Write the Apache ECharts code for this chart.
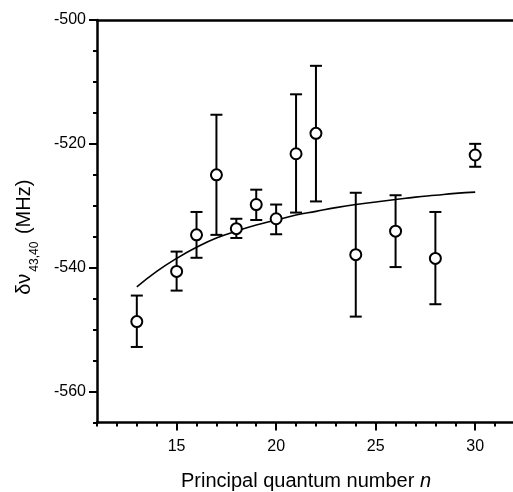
<!DOCTYPE html>
<html>
<head>
<meta charset="utf-8">
<script src="https://cdn.jsdelivr.net/npm/echarts@6/dist/echarts.min.js"></script>
<style>html,body{margin:0;padding:0;background:#fff}#c{width:513px;height:492px}</style>
</head>
<body>
<div id="c"></div>
<script>
const nValues   = [13, 15, 16, 17, 18, 19, 20, 21, 22, 24, 26, 28, 30];
const shifts    = [-548.7, -540.6, -534.7, -525.0, -533.7, -529.8, -532.1, -521.6, -518.3, -537.9, -534.1, -538.5, -521.8];
const errLow    = [-552.8, -543.7, -538.4, -534.7, -535.2, -532.3, -534.6, -531.1, -529.3, -547.9, -539.9, -545.9, -523.7];
const errHigh   = [-544.5, -537.4, -531.0, -515.3, -532.1, -527.4, -529.8, -512.0, -507.4, -527.9, -528.3, -531.0, -520.0];
// Fitted curve
const fitN      = [13, 14, 15, 16, 17, 18, 19, 20, 21, 22, 23, 24, 25, 26, 27, 28, 29, 30];
const fitShift  = [-543.1, -540.6, -538.5, -536.7, -535.2, -534.1, -533.1, -532.3, -531.5, -530.9, -530.3, -529.8, -529.4, -529.0, -528.6, -528.3, -528.0, -527.8];
// Axes
const xTickLabels = [15, 20, 25, 30];
const yTickLabels = [-560, -540, -520, -500];

const FONT = 'Liberation Sans, Arial, Helvetica, sans-serif';
const chart = echarts.init(document.getElementById('c'), null, {renderer: 'canvas'});

const points = nValues.map((n, i) => [n, shifts[i]]);
const bars = nValues.map((n, i) => [n, errLow[i], errHigh[i]]);
const curve = fitN.map((n, i) => [n, fitShift[i]]);

chart.setOption({
  animation: false,
  backgroundColor: '#fff',
  grid: {left: 97, top: 20, right: -2, bottom: 69.5, show: false, containLabel: false, outerBoundsMode: 'none'},
  xAxis: [
    {
      type: 'value', min: 11, max: 32, position: 'bottom',
      name: 'Principal quantum number {i|n}', nameLocation: 'middle', nameGap: 49,
      nameTextStyle: {fontFamily: FONT, fontSize: 20, color: '#000', rich: {i: {fontFamily: FONT, fontSize: 20, fontStyle: 'italic', color: '#000'}}},
      axisLine: {show: true, lineStyle: {color: '#000', width: 2.5}},
      axisTick: {show: true, length: 8, lineStyle: {color: '#000', width: 2}, customValues: xTickLabels},
      axisLabel: {show: true, margin: 16, fontFamily: FONT, fontSize: 16, color: '#000', customValues: xTickLabels},
      splitLine: {show: false}
    },
    {
      type: 'value', min: 11, max: 32, interval: 1, position: 'bottom', offset: 0,
      axisLine: {show: false},
      axisTick: {show: true, length: 4, lineStyle: {color: '#000', width: 2}},
      axisLabel: {show: false},
      splitLine: {show: false}
    },
    {
      type: 'value', min: 11, max: 32, position: 'top', offset: 0,
      axisLine: {show: true, lineStyle: {color: '#000', width: 2.5}},
      axisTick: {show: false},
      axisLabel: {show: false},
      splitLine: {show: false}
    }
  ],
  yAxis: [
    {
      type: 'value', min: -565, max: -500, position: 'left',
      name: '{a|δν}{s|43,40}{a| (MHz)}', nameLocation: 'middle', nameRotate: 90, nameGap: 56,
      nameTextStyle: {
        fontFamily: FONT, fontSize: 20, color: '#000', padding: [0, 32, 0, 0],
        rich: {
          a: {fontFamily: FONT, fontSize: 20, color: '#000', lineHeight: 34, verticalAlign: 'middle'},
          s: {fontFamily: FONT, fontSize: 12, color: '#000', lineHeight: 12, verticalAlign: 'bottom', padding: [0, 2, 0, 2]}
        }
      },
      axisLine: {show: true, lineStyle: {color: '#000', width: 2.5}},
      axisTick: {show: true, length: 8, lineStyle: {color: '#000', width: 2}, customValues: yTickLabels},
      axisLabel: {show: true, margin: 11, fontFamily: FONT, fontSize: 16, color: '#000', customValues: yTickLabels},
      splitLine: {show: false}
    },
    {
      type: 'value', min: -565, max: -500, interval: 5, position: 'left', offset: 0,
      axisLine: {show: false},
      axisTick: {show: true, length: 4, lineStyle: {color: '#000', width: 2}},
      axisLabel: {show: false},
      splitLine: {show: false}
    }
  ],
  series: [
    {
      type: 'line', data: curve, smooth: true, showSymbol: false, symbol: 'none',
      lineStyle: {color: '#000', width: 1.6}, z: 2, xAxisIndex: 0, yAxisIndex: 0
    },
    {
      type: 'custom', data: bars, xAxisIndex: 0, yAxisIndex: 0, z: 3,
      renderItem: function (params, api) {
        const x = api.value(0);
        const lo = api.coord([x, api.value(1)]);
        const hi = api.coord([x, api.value(2)]);
        const w = 6;
        const st = {stroke: '#000', lineWidth: 2};
        return {
          type: 'group',
          children: [
            {type: 'line', shape: {x1: lo[0], y1: lo[1], x2: hi[0], y2: hi[1]}, style: st},
            {type: 'line', shape: {x1: lo[0] - w, y1: lo[1], x2: lo[0] + w, y2: lo[1]}, style: st},
            {type: 'line', shape: {x1: hi[0] - w, y1: hi[1], x2: hi[0] + w, y2: hi[1]}, style: st}
          ]
        };
      }
    },
    {
      type: 'scatter', data: points, symbol: 'circle', symbolSize: 11, z: 4,
      xAxisIndex: 0, yAxisIndex: 0,
      itemStyle: {color: '#fff', borderColor: '#000', borderWidth: 2, opacity: 1},
      emphasis: {disabled: true}
    }
  ]
});
</script>
</body>
</html>
